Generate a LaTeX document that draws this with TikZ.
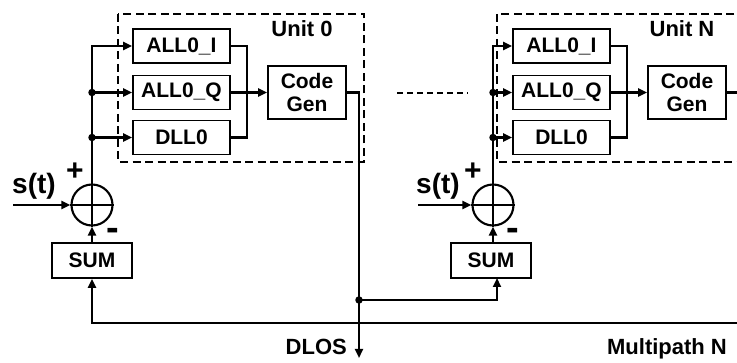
\documentclass[tikz,border=0pt]{standalone}
\usepackage{fontspec}
\setmainfont{Liberation Sans}
\usetikzlibrary{arrows.meta}
\begin{document}
\begin{tikzpicture}[x=1pt,y=-1pt,
  blk/.style={draw,line width=1.8pt,minimum width=97pt,minimum height=34pt,inner sep=0pt,font=\fontsize{21}{23}\selectfont\bfseries},
  cgblk/.style={draw,line width=1.8pt,minimum width=78pt,minimum height=53pt,inner sep=0pt,align=center,font=\fontsize{21}{23}\selectfont\bfseries},
  sumblk/.style={draw,line width=1.8pt,minimum width=80pt,minimum height=35pt,inner sep=0pt,font=\fontsize{21}{23}\selectfont\bfseries},
  summer/.style={draw,circle,line width=2.1pt,minimum size=41pt,inner sep=0pt},
  conn/.style={line width=2.2pt},
  arr/.style={conn,-{Triangle[length=9pt,width=8pt]}},
  dot/.style={circle,fill,inner sep=0pt,minimum size=7.5pt},
  unitbox/.style={draw,line width=1.2pt,dash pattern=on 8pt off 4.5pt},
  lbl/.style={font=\fontsize{22}{24}\selectfont\bfseries,inner sep=0pt},
  sig/.style={font=\fontsize{28}{30}\selectfont\bfseries,inner sep=0pt},
  plus/.style={font=\fontsize{30}{32}\selectfont\bfseries,inner sep=0pt},
  minus/.style={font=\fontsize{38}{40}\selectfont\bfseries,inner sep=0pt}
]
\useasboundingbox (0,0) rectangle (737,363);
\clip (0,0) rectangle (737,363);

% ---------- Unit 0 ----------
\draw[unitbox] (118,14) rectangle (364,162);
\node[lbl] (u0) at (302,29) {Unit 0};
\node[blk] (a0i) at (181.5,46) {ALL0\_I};
\node[blk] (a0q) at (181.5,92.5) {ALL0\_Q};
\node[blk] (d0) at (181.5,137.5) {DLL0};
\node[cgblk] (cg0) at (307,92.5) {Code\\Gen};
\node[summer] (c0) at (92,205) {};
\node[sumblk] (s0) at (92,260.5) {SUM};
\node[sig] (st0) at (34,186) {s(t)};
\node[plus] (p0) at (75,172) {+};
\node[minus] (m0) at (113,234) {-};

\draw[conn] (c0.north) -- (c0.south);
\draw[conn] (c0.west) -- (c0.east);
\coordinate (in0) at (13,205);
\draw[arr] (in0) -- (c0.west);
\draw[arr] (c0.north) |- (a0i.west);
\coordinate (j0a) at (92,92.5);
\coordinate (j0b) at (92,137.5);
\node[dot] at (j0a) {};
\node[dot] at (j0b) {};
\draw[arr] (j0a) -- (a0q.west);
\draw[arr] (j0b) -- (d0.west);
\coordinate (mg0) at (247,92.5);
\draw[conn] (a0i.east) -| (mg0);
\draw[conn] (d0.east) -| (mg0);
\draw[arr] (a0q.east) -- (cg0.west);
\draw[arr] (s0.north) -- (c0.south);

% DLOS output
\coordinate (dlos) at (359,358);
\draw[arr] (cg0.east) -| (dlos);
\node[lbl,anchor=east] (dl) at (347,347) {DLOS};

% ---------- Unit N ----------
\draw[unitbox] (497,14) rectangle (780,162);
\node[lbl] (uN) at (682,29) {Unit N};
\node[blk] (aNi) at (561.5,46) {ALL0\_I};
\node[blk] (aNq) at (561.5,92.5) {ALL0\_Q};
\node[blk] (dN) at (561.5,137.5) {DLL0};
\node[cgblk] (cgN) at (687,92.5) {Code\\Gen};
\node[summer] (cN) at (493,205) {};
\node[sumblk] (sN) at (491,260.5) {SUM};
\node[sig] (stN) at (438,186) {s(t)};
\node[plus] (pN) at (473,172) {+};
\node[minus] (mN) at (513,234) {-};

\draw[conn] (cN.north) -- (cN.south);
\draw[conn] (cN.west) -- (cN.east);
\coordinate (inN) at (418,205);
\draw[arr] (inN) -- (cN.west);
\draw[arr] (cN.north) |- (aNi.west);
\coordinate (jNa) at (493,92.5);
\coordinate (jNb) at (493,137.5);
\node[dot] at (jNa) {};
\node[dot] at (jNb) {};
\draw[arr] (jNa) -- (aNq.west);
\draw[arr] (jNb) -- (dN.west);
\coordinate (mgN) at (627,92.5);
\draw[conn] (aNi.east) -| (mgN);
\draw[conn] (dN.east) -| (mgN);
\draw[arr] (aNq.east) -- (cgN.west);
\draw[arr] (sN.north -| cN.south) -- (cN.south);
\coordinate (outN) at (745,92.5);
\draw[conn] (cgN.east) -- (outN);

% dotted continuation
\coordinate (dsA) at (397,93);
\coordinate (dsB) at (468,93);
\draw[line width=2pt,dash pattern=on 6pt off 4pt] (dsA) -- (dsB);

% DLOS feed to SUM N
\coordinate (jd) at (359,300);
\node[dot] at (jd) {};
\coordinate (sNin) at (497,278);
\draw[arr] (jd) -| (sNin);

% feedback to SUM 0
\coordinate (fbR) at (745,323);
\draw[arr] (fbR) -| (s0.south);

\node[lbl] (mp) at (667,349) {Multipath N};
\end{tikzpicture}
\end{document}
